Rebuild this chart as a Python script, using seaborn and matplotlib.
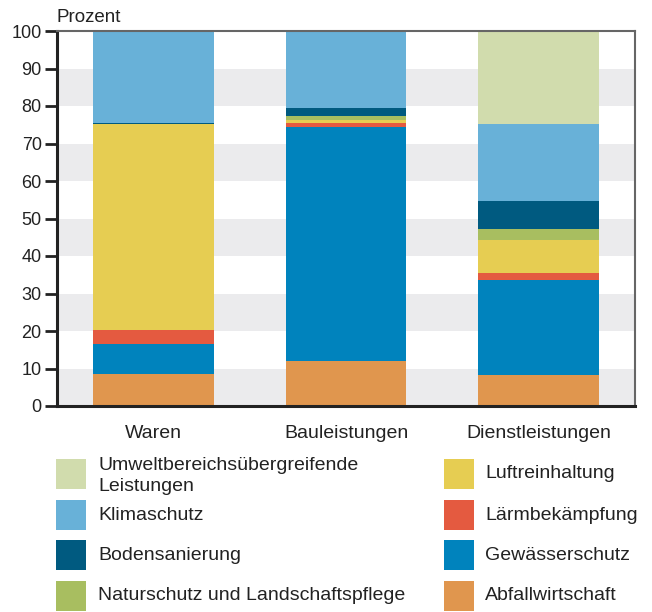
import pandas as pd
import numpy as np
import seaborn as sns
from matplotlib import pyplot as plt
from matplotlib.patches import Rectangle

# Daten (Prozent), von unten nach oben gestapelt
kategorien = ['Waren', 'Bauleistungen', 'Dienstleistungen']
abfall = [8.5, 12.0, 8.3]
gewaesser = [8.0, 62.4, 25.4]
laerm = [3.8, 1.1, 1.8]
luft = [55.0, 0.8, 8.8]
natur = [0.0, 1.0, 2.9]
boden = [0.2, 2.2, 7.5]
klima = [24.5, 20.5, 20.5]
umwelt = [0.0, 0.0, 24.8]

bereiche = ['Abfallwirtschaft', 'Gewässerschutz', 'Lärmbekämpfung', 'Luftreinhaltung',
            'Naturschutz und Landschaftspflege', 'Bodensanierung', 'Klimaschutz',
            'Umweltbereichsübergreifende\nLeistungen']
werte = [abfall, gewaesser, laerm, luft, natur, boden, klima, umwelt]
farben = ['#e0964e', '#0083bd', '#e45a40', '#e6cd52', '#a8be60', '#005a80', '#68b1d8', '#d1dcad']

sns.set_theme(style='white')
plt.rcParams['font.family'] = ['Liberation Sans', 'DejaVu Sans']

fig = plt.figure(figsize=(6.52, 6.12), dpi=100)
ax = fig.add_axes([57 / 652, 1 - 406 / 612, 578 / 652, 375 / 612])

# graue Bänder im Hintergrund
for y0 in range(0, 100, 20):
    ax.axhspan(y0, y0 + 10, color='#ebebed', zorder=0, lw=0)

df = pd.DataFrame(dict(zip(bereiche, werte)), index=kategorien)
kum = df.cumsum(axis=1)
# von oben nach unten zeichnen, damit die unteren Segmente überdecken
for name, farbe in zip(reversed(bereiche), reversed(farben)):
    sns.barplot(x=kategorien, y=kum[name].values, color=farbe, width=0.627,
                saturation=1, ax=ax, zorder=2, linewidth=0)

ax.set_xlim(-0.5, 2.5)
ax.set_ylim(0, 100)
ax.set_yticks(range(0, 101, 10))
ax.tick_params(axis='y', left=True, length=9, width=2, color='#222222',
               labelsize=13, pad=2, labelcolor='#222222')
ax.tick_params(axis='x', bottom=False, labelsize=14, pad=8, labelcolor='#222222')
for s in ['left', 'bottom']:
    ax.spines[s].set_color('#222222')
    ax.spines[s].set_linewidth(2.2)
for s in ['top', 'right']:
    ax.spines[s].set_color('#666666')
    ax.spines[s].set_linewidth(1.5)
ax.set_xlabel('')
ax.set_ylabel('')
fig.text(57 / 652, 1 - 18 / 612, 'Prozent', fontsize=13.5, color='#222222', va='center')

# Legende
links = ['Umweltbereichsübergreifende\nLeistungen', 'Klimaschutz', 'Bodensanierung',
         'Naturschutz und Landschaftspflege']
rechts = ['Luftreinhaltung', 'Lärmbekämpfung', 'Gewässerschutz', 'Abfallwirtschaft']
zeilen_y = [474, 515, 555, 596]
for spalte, (px, tx) in zip([links, rechts], [(56, 98), (444, 485)]):
    for name, yc in zip(spalte, zeilen_y):
        farbe = farben[bereiche.index(name)]
        fig.patches.append(Rectangle((px / 652, 1 - (yc + 15) / 612), 30 / 652, 30 / 612,
                                     transform=fig.transFigure, color=farbe, lw=0))
        fig.text(tx / 652, 1 - (yc + (2 if '\n' in name else 0)) / 612, name, fontsize=14,
                 color='#222222', va='center', linespacing=1.3)

plt.savefig('out.png', dpi=100)
